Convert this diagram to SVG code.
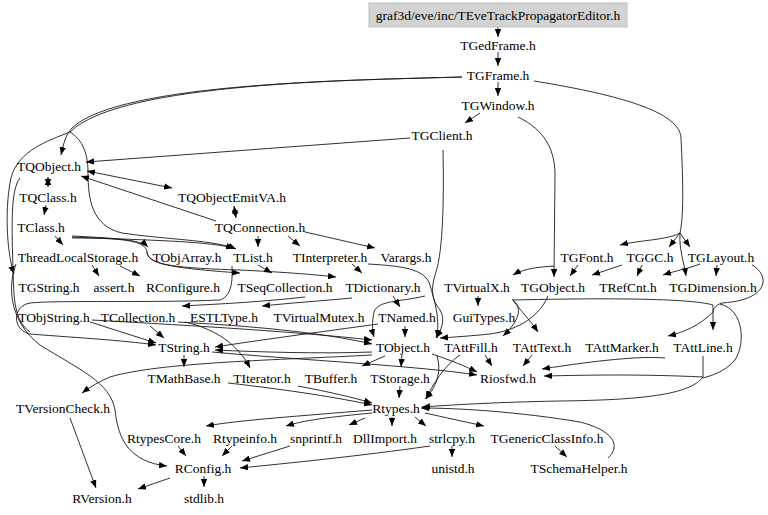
<svg xmlns="http://www.w3.org/2000/svg" width="768" height="515" viewBox="0 0 768 515">
<style>
text{font-family:"Liberation Serif","Times New Roman",serif;font-size:13.5px;text-anchor:middle;fill:#000}
.e path{fill:none;stroke:#1a1a1a;stroke-width:0.9;marker-end:url(#a)}
.e path.b{marker-start:url(#a)}
.e path.n{marker-end:none}
</style>
<defs>
<marker id="a" viewBox="0 0 10 8" refX="10" refY="4" markerWidth="8" markerHeight="6.4" orient="auto-start-reverse" markerUnits="userSpaceOnUse"><path d="M0,0 L10,4 L0,8 z" fill="#000"/></marker>
</defs>
<rect width="768" height="515" fill="#fff"/>
<g class="e" id="edges">
<path d="M498,27 L498,37"/>
<path d="M498,52 L498,66"/>
<path d="M498,82 L498,96"/>
<path d="M480,113 L465,123"/>
<path d="M462,77 C360,80 120,82 72,128 C66,134 64,142 61,155"/>
<path d="M462,77 C360,80 120,82 70,132 C50,140 18,150 11,178 C5,205 6,250 14,274"/>
<path d="M70,132 C80,138 88,150 88,172 C88,200 92,226 122,233 C170,240 215,240 236,249"/>
<path d="M534,81 C620,95 680,112 681,138 C683,180 684,215 680,233 C668,240 640,240 620,245"/>
<path d="M680,233 L669,247"/>
<path d="M680,233 L690,247"/>
<path d="M680,233 C679,250 684,262 686,276"/>
<path d="M518,117 C545,130 555,150 555,175 L554,277"/>
<path d="M554,266 C540,267 525,268 513,275"/>
<path d="M410,138 L86,162"/>
<path d="M443,150 C444,200 443,250 436,272 C430,290 432,300 440,310 C446,320 441,330 436,338"/>
<path class="b" d="M48,177 L48,187"/>
<path class="b" d="M87,171 L172,188"/>
<path d="M216,221 L81,176"/>
<path class="b" d="M234,206 L236,218"/>
<path d="M258,236 L258,247"/>
<path d="M288,236 L300,246"/>
<path d="M305,232 L375,248"/>
<path d="M46,205 L44,215"/>
<path d="M55,236 L63,245"/>
<path d="M72,236 C110,238 140,239 148,247"/>
<path d="M72,237 C130,240 200,240 234,248"/>
<path d="M72,238 C120,238 146,240 147,252 C148,264 170,268 240,273"/>
<path d="M147,252 C148,264 170,268 240,270 C280,272 310,274 336,277"/>
<path d="M258,265 L272,273"/>
<path d="M352,264 L362,273"/>
<path d="M368,264 C400,266 425,268 430,285 C434,300 440,315 437,338"/>
<path d="M393,296 L400,307"/>
<path d="M352,298 C320,301 290,303 262,306"/>
<path d="M305,297 C260,302 220,304 182,306"/>
<path d="M232,266 C232,275 234,295 220,300 C150,303 60,300 30,303 C12,306 12,330 30,334 C80,338 120,340 156,345"/>
<path d="M20,178 C10,190 12,230 13,270 C14,300 14,320 30,332"  class="n"/>
<path d="M150,326 L164,338"/>
<path d="M90,322 L156,343"/>
<path d="M92,320 C200,326 300,332 372,340"/>
<path d="M178,322 C250,326 320,332 372,344"/>
<path d="M185,322 C220,330 240,348 250,368"/>
<path d="M378,324 C320,332 260,340 215,347"/>
<path d="M405,326 L405,337"/>
<path d="M425,296 C400,302 378,300 374,312 C372,322 372,330 374,337"/>
<path d="M184,355 L184,367"/>
<path d="M212,352 C300,360 420,366 477,375"/>
<path d="M372,352 C320,354 260,352 215,350"/>
<path d="M372,355 C280,360 160,362 110,377 C100,381 90,387 82,393"/>
<path d="M402,355 L401,367"/>
<path d="M385,356 L362,366"/>
<path d="M432,354 C450,360 465,366 477,372"/>
<path d="M437,356 C442,372 436,388 425,399"/>
<path d="M460,355 C445,365 432,385 426,399"/>
<path d="M485,355 L492,366"/>
<path d="M532,355 L523,366"/>
<path d="M665,358 C640,356 600,360 542,369"/>
<path d="M703,356 L703,377 C640,374 590,375 544,376"/>
<path d="M703,377 C690,395 640,400 560,401 C500,402 450,405 422,407"/>
<path d="M720,304 C745,310 745,345 735,360 C725,372 710,376 703,378" class="n"/>
<path d="M400,386 L399,398"/>
<path d="M298,386 C330,392 355,398 372,403"/>
<path d="M228,383 C290,390 340,398 372,405"/>
<path d="M608,458 C622,445 612,430 580,422 C520,412 460,408 421,408"/>
<path d="M372,410 C300,416 240,420 206,426"/>
<path d="M372,413 C330,417 305,420 286,426"/>
<path d="M365,418 L349,425"/>
<path d="M392,417 L392,426"/>
<path d="M415,417 L426,426"/>
<path d="M425,413 L484,426"/>
<path d="M555,446 L567,457"/>
<path d="M452,446 L452,457"/>
<path d="M178,446 L186,456"/>
<path d="M232,446 L222,456"/>
<path d="M290,446 L242,461"/>
<path d="M430,446 C360,456 290,463 240,468"/>
<path d="M170,478 L138,489"/>
<path d="M204,476 L204,487"/>
<path d="M70,418 L96,488"/>
<path d="M16,264 C8,285 8,320 40,345 C80,370 110,382 115,410 C118,440 130,462 167,466"/>
<path d="M92,265 L99,276"/>
<path d="M120,266 L140,276"/>
<path d="M478,296 L478,306"/>
<path d="M513,300 C525,310 515,325 503,336"/>
<path d="M512,299 C520,310 530,320 538,332"/>
<path d="M548,296 C540,315 520,330 490,334 C470,336 455,337 440,338"/>
<path d="M513,300 C600,298 690,298 713,305 L713,330"/>
<path d="M713,312 C700,325 685,332 668,336"/>
<path d="M752,265 C770,275 770,300 722,303 C715,305 713,310 713,312" class="n"/>
<path d="M578,265 L570,276"/>
<path d="M642,265 L637,276"/>
<path d="M622,265 L592,275"/>
<path d="M700,264 C690,268 675,271 663,275"/>
<path d="M717,265 L716,276"/>
</g>
<g id="n_editor"><rect x="369" y="3" width="258" height="24" fill="#d3d3d3" stroke="#c0c0c0"/><text x="498" y="19.5">graf3d/eve/inc/TEveTrackPropagatorEditor.h</text></g>
<g id="n_TGedFrame"><text x="498" y="49.5">TGedFrame.h</text></g>
<g id="n_TGFrame"><text x="498" y="79.5">TGFrame.h</text></g>
<g id="n_TGWindow"><text x="498" y="109.5">TGWindow.h</text></g>
<g id="n_TGClient"><text x="442" y="139.5">TGClient.h</text></g>
<g id="n_TQObject"><text x="49" y="170.5">TQObject.h</text></g>
<g id="n_TQClass"><text x="48" y="201.5">TQClass.h</text></g>
<g id="n_TQObjectEmitVA"><text x="232" y="201.5">TQObjectEmitVA.h</text></g>
<g id="n_TClass"><text x="41" y="231.5">TClass.h</text></g>
<g id="n_TQConnection"><text x="260" y="231.5">TQConnection.h</text></g>
<g id="n_ThreadLocalStorage"><text x="78" y="261.5">ThreadLocalStorage.h</text></g>
<g id="n_TObjArray"><text x="187" y="261.5">TObjArray.h</text></g>
<g id="n_TList"><text x="253" y="261.5">TList.h</text></g>
<g id="n_TInterpreter"><text x="330" y="261.5">TInterpreter.h</text></g>
<g id="n_Varargs"><text x="406" y="261.5">Varargs.h</text></g>
<g id="n_TGFont"><text x="587" y="261.5">TGFont.h</text></g>
<g id="n_TGGC"><text x="650" y="261.5">TGGC.h</text></g>
<g id="n_TGLayout"><text x="721" y="261.5">TGLayout.h</text></g>
<g id="n_TGString"><text x="49" y="291.5">TGString.h</text></g>
<g id="n_assert"><text x="114" y="291.5">assert.h</text></g>
<g id="n_RConfigure"><text x="183" y="291.5">RConfigure.h</text></g>
<g id="n_TSeqCollection"><text x="285" y="291.5">TSeqCollection.h</text></g>
<g id="n_TDictionary"><text x="383" y="291.5">TDictionary.h</text></g>
<g id="n_TVirtualX"><text x="477" y="291.5">TVirtualX.h</text></g>
<g id="n_TGObject"><text x="553" y="291.5">TGObject.h</text></g>
<g id="n_TRefCnt"><text x="628" y="291.5">TRefCnt.h</text></g>
<g id="n_TGDimension"><text x="713" y="291.5">TGDimension.h</text></g>
<g id="n_TObjString"><text x="54" y="321.5">TObjString.h</text></g>
<g id="n_TCollection"><text x="138" y="321.5">TCollection.h</text></g>
<g id="n_ESTLType"><text x="224" y="321.5">ESTLType.h</text></g>
<g id="n_TVirtualMutex"><text x="319" y="321.5">TVirtualMutex.h</text></g>
<g id="n_TNamed"><text x="407" y="321.5">TNamed.h</text></g>
<g id="n_GuiTypes"><text x="484" y="321.5">GuiTypes.h</text></g>
<g id="n_TString"><text x="184" y="351.5">TString.h</text></g>
<g id="n_TObject"><text x="403" y="351.5">TObject.h</text></g>
<g id="n_TAttFill"><text x="471" y="351.5">TAttFill.h</text></g>
<g id="n_TAttText"><text x="542" y="351.5">TAttText.h</text></g>
<g id="n_TAttMarker"><text x="622" y="351.5">TAttMarker.h</text></g>
<g id="n_TAttLine"><text x="703" y="351.5">TAttLine.h</text></g>
<g id="n_TMathBase"><text x="184" y="382.5">TMathBase.h</text></g>
<g id="n_TIterator"><text x="262" y="382.5">TIterator.h</text></g>
<g id="n_TBuffer"><text x="331" y="382.5">TBuffer.h</text></g>
<g id="n_TStorage"><text x="400" y="382.5">TStorage.h</text></g>
<g id="n_Riosfwd"><text x="508" y="382.5">Riosfwd.h</text></g>
<g id="n_TVersionCheck"><text x="63" y="412.5">TVersionCheck.h</text></g>
<g id="n_Rtypes"><text x="396" y="412.5">Rtypes.h</text></g>
<g id="n_RtypesCore"><text x="164" y="442.5">RtypesCore.h</text></g>
<g id="n_Rtypeinfo"><text x="245" y="442.5">Rtypeinfo.h</text></g>
<g id="n_snprintf"><text x="316" y="442.5">snprintf.h</text></g>
<g id="n_DllImport"><text x="385" y="442.5">DllImport.h</text></g>
<g id="n_strlcpy"><text x="452" y="442.5">strlcpy.h</text></g>
<g id="n_TGenericClassInfo"><text x="547" y="442.5">TGenericClassInfo.h</text></g>
<g id="n_RConfig"><text x="203" y="472.5">RConfig.h</text></g>
<g id="n_unistd"><text x="453" y="472.5">unistd.h</text></g>
<g id="n_TSchemaHelper"><text x="579" y="472.5">TSchemaHelper.h</text></g>
<g id="n_RVersion"><text x="102" y="502.5">RVersion.h</text></g>
<g id="n_stdlib"><text x="204" y="502.5">stdlib.h</text></g>
</svg>
